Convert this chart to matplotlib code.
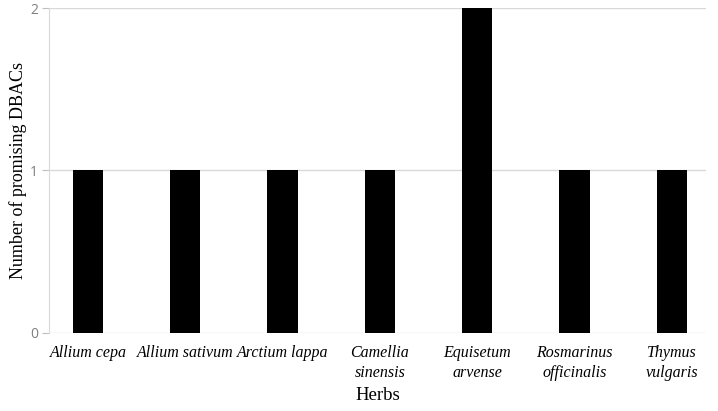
import matplotlib.pyplot as plt

herbs = ["Allium cepa", "Allium sativum", "Arctium lappa", "Camellia\nsinensis",
         "Equisetum\narvense", "Rosmarinus\nofficinalis", "Thymus\nvulgaris"]
counts = [1, 1, 1, 1, 2, 1, 1]
y_ticks = [0, 1, 2]

fig = plt.figure(figsize=(7.18, 4.11), dpi=100)
ax = fig.add_axes([0.0682, 0.19, 0.915, 0.7905])

x = range(len(herbs))
ax.bar(x, counts, width=0.31, color="black", zorder=3)

ax.set_xlim(-0.40, 6.35)
ax.set_ylim(0, 2)
ax.set_yticks(y_ticks)
ax.set_yticklabels([str(v) for v in y_ticks], fontfamily="Open Sans", fontsize=10, color="#7f7f7f")
ax.set_xticks(list(x))
ax.set_xticklabels(herbs, fontfamily="Liberation Serif", fontstyle="italic", fontsize=11.5,
                   linespacing=1.3)
ax.tick_params(axis="x", length=0, pad=9)
ax.tick_params(axis="y", length=5, color="#bfbfbf", pad=3)

ax.grid(axis="y", color="#d9d9d9", linewidth=1, zorder=0)
for side in ["top", "right", "bottom"]:
    ax.spines[side].set_visible(False)
ax.spines["left"].set_color("#d9d9d9")

ax.set_ylabel("Number of promising DBACs", fontfamily="Liberation Serif", fontsize=13, labelpad=2)
ax.set_xlabel("Herbs", fontfamily="Liberation Serif", fontsize=13.5, labelpad=4)

fig.savefig("out.png", dpi=100)
